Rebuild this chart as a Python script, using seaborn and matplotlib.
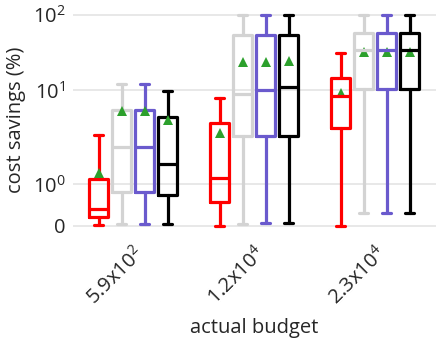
import numpy as np
import pandas as pd
import matplotlib
matplotlib.use("Agg")
import matplotlib.pyplot as plt
import seaborn as sns

# ---- data ----
budgets = ["5.9x10^2", "1.2x10^4", "2.3x10^4"]
budget_labels = [r"$5.9\mathrm{x}10^{2}$", r"$1.2\mathrm{x}10^{4}$", r"$2.3\mathrm{x}10^{4}$"]
methods = ["m1", "m2", "m3", "m4"]
colors = ["#ff0000", "#d3d3d3", "#6a5acd", "#000000"]

# five-number summaries, order: budget-major, method-minor
wmin = [0.02, 0.04, 0.04, 0.04,
        0.0, 0.03, 0.05, 0.05,
        0.0, 0.29, 0.29, 0.29]
q1 = [0.20, 0.81, 0.81, 0.73,
      0.57, 3.2, 3.2, 3.2,
      3.9, 10.2, 10.2, 10.2]
med = [0.39, 2.46, 2.46, 1.63,
       1.15, 9.0, 10.0, 10.9,
       8.5, 34.0, 34.0, 34.0]
q3 = [1.14, 6.1, 6.1, 5.2,
      4.4, 54.0, 54.0, 54.0,
      14.6, 57.0, 57.0, 57.0]
wmax = [3.3, 11.8, 11.8, 9.8,
        8.2, 100.0, 100.0, 100.0,
        30.8, 100.0, 100.0, 100.0]
means = [1.32, 6.0, 6.0, 4.8,
         3.5, 23.8, 23.8, 24.0,
         9.2, 32.4, 32.4, 32.4]

# ---- build long-form tables ----
rows, mrows = [], []
k = 0
for b in budgets:
    for m in methods:
        for v in (wmin[k], q1[k], med[k], q3[k], wmax[k]):
            rows.append({"budget": b, "method": m, "savings": v})
        mrows.append({"budget": b, "method": m, "savings": means[k]})
        k += 1
df = pd.DataFrame(rows)
dmean = pd.DataFrame(mrows)

# ---- custom compressed-log scale (as in the reference) ----
def fwd(y):
    y = np.asarray(y, dtype=float)
    lin = y * 41.5
    mid = 41.5 + 94.0 * np.log10(np.clip(y, 1, 10))
    hi = 135.5 + 75.0 * np.log10(np.clip(y, 10, None) / 10.0)
    return np.where(y <= 1, lin, np.where(y <= 10, mid, hi))

def inv(s):
    s = np.asarray(s, dtype=float)
    lin = s / 41.5
    mid = 10 ** ((np.clip(s, 41.5, 135.5) - 41.5) / 94.0)
    hi = 10.0 * 10 ** ((np.clip(s, 135.5, None) - 135.5) / 75.0)
    return np.where(s <= 41.5, lin, np.where(s <= 135.5, mid, hi))

sns.set_theme(style="white")
FONT = "Open Sans"
plt.rcParams["font.family"] = [FONT, "DejaVu Sans"]
plt.rcParams["mathtext.fontset"] = "custom"
plt.rcParams["mathtext.rm"] = FONT
plt.rcParams["mathtext.it"] = FONT + ":italic"
plt.rcParams["mathtext.bf"] = FONT + ":bold"

fig = plt.figure(figsize=(4.4, 3.45), dpi=100)
ax = fig.add_axes([0.165, 0.3275, 0.825, 0.65])

ax.set_yscale("function", functions=(fwd, inv))

sns.boxplot(data=df, x="budget", y="savings", hue="method", order=budgets,
            hue_order=methods, palette=colors, fill=False, width=0.76, gap=0.18,
            whis=(0, 100), showfliers=False, linewidth=2.3, legend=False, ax=ax,
            capprops=dict(solid_capstyle="round"),
            whiskerprops=dict(solid_capstyle="round"))

sns.pointplot(data=dmean, x="budget", y="savings", hue="method", order=budgets,
              hue_order=methods, palette=["#2ca02c"] * 4, dodge=0.57,
              markers="^", linestyle="none", errorbar=None, legend=False,
              markersize=7, markeredgewidth=0, ax=ax)

ax.set_xlim(-0.5, 2.5)
ax.set_ylim(inv(-6.5).item(), inv(217.5).item())
ax.set_yticks([0, 1, 10, 100])
ax.set_yticklabels(["0", r"$10^{0}$", r"$10^{1}$", r"$10^{2}$"])
ax.set_xticks(range(len(budgets)))
ax.set_xticklabels(budget_labels, rotation=45, ha="right", rotation_mode="anchor")
ax.minorticks_off()

ax.grid(axis="y", color="#e6e6e6", linewidth=1.3)
ax.set_axisbelow(True)
for sp in ax.spines.values():
    sp.set_visible(False)
ax.tick_params(axis="both", length=0, labelsize=14.5, colors="#262626")
ax.tick_params(axis="y", pad=5)
ax.tick_params(axis="x", pad=8)
ax.set_xlabel("actual budget", fontsize=14.5, color="#262626", labelpad=6)
ax.set_ylabel("cost savings (%)", fontsize=14.5, color="#262626", labelpad=5)

fig.savefig("out.png", dpi=100)
